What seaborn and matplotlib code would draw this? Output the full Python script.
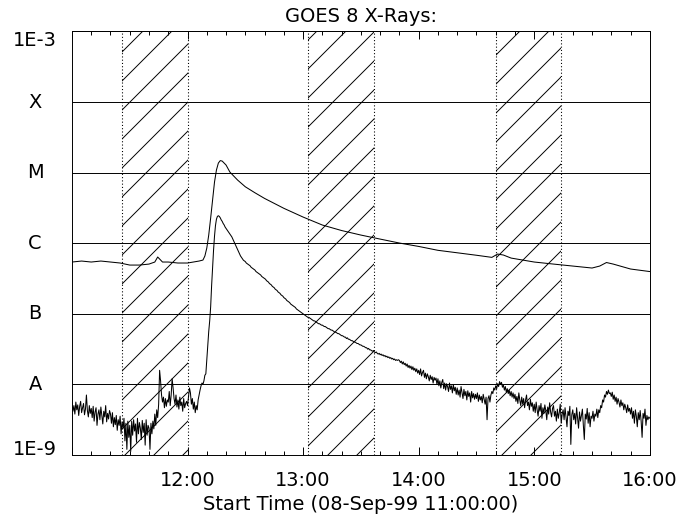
import numpy as np
import pandas as pd
import seaborn as sns
import matplotlib
matplotlib.use("Agg")
import matplotlib.pyplot as plt
from matplotlib.ticker import FixedLocator, NullLocator

# time axis: minutes after 08-Sep-99 11:00:00
# long channel (1-8 A), log10(W/m^2)
long_minutes = [0, 5, 10, 15, 20, 25, 30, 35, 40, 43, 44.5, 45.5, 47, 50, 55, 60, 63, 66,
                68, 69, 70, 71, 72, 73, 74, 75, 76, 77, 78, 80, 82, 86, 90, 95, 100,
                110, 120, 130, 140, 150, 160, 170, 180, 190, 200, 210, 218, 221, 224,
                228, 240, 250, 260, 270, 274, 277.5, 281, 290, 300]
long_log = [-6.266, -6.252, -6.266, -6.252, -6.266, -6.280, -6.309, -6.309, -6.295, -6.266,
            -6.195, -6.223, -6.266, -6.266, -6.280, -6.280, -6.266, -6.252,
            -6.238, -6.181, -6.068, -5.884, -5.643, -5.388, -5.133, -4.963, -4.864, -4.829,
            -4.836, -4.892, -4.992, -5.105, -5.200, -5.285, -5.365,
            -5.505, -5.629, -5.742, -5.820, -5.884, -5.941, -5.997, -6.045, -6.100, -6.135,
            -6.170, -6.200, -6.153, -6.167,
            -6.210, -6.266, -6.295, -6.323, -6.351, -6.323, -6.273, -6.295, -6.365, -6.401]

# short channel (0.5-4 A), one value every 30 s, log10(W/m^2)
short_log = [
    -8.26, -8.38, -8.30, -8.42, -8.25, -8.36, -8.29, -8.44, -8.31, -8.24, -8.40, -8.33, -8.27, -8.43, -8.35, -8.15, -8.37, -8.46, -8.30, -8.41,
    -8.34, -8.47, -8.31, -8.52, -8.39, -8.33, -8.58, -8.42, -8.36, -8.50, -8.32, -8.44, -8.56, -8.38, -8.46, -8.30, -8.53, -8.41, -8.49, -8.37,
    -8.42, -8.55, -8.40, -8.60, -8.47, -8.57, -8.44, -8.65, -8.50, -8.58, -8.45, -8.70, -8.53, -8.62, -8.48, -8.80, -8.55, -8.92, -8.52, -8.75,
    -8.58, -8.95, -8.52, -8.72, -8.50, -8.66, -8.56, -8.82, -8.48, -8.70, -8.54, -8.62, -8.78, -8.51, -8.68, -8.55, -8.86, -8.50, -8.72, -8.58,
    -8.62, -8.92, -8.55, -8.70, -8.52, -8.63, -8.42, -8.58, -8.36, -8.47, -8.28, -7.80, -7.95, -8.15, -8.25, -8.18, -8.33, -8.20, -8.31, -8.22,
    -8.25, -8.10, -8.30, -8.15, -7.92, -8.05, -8.20, -8.28, -8.15, -8.32, -8.22, -8.35, -8.18, -8.30, -8.25, -8.38, -8.20, -8.33, -8.27, -8.24,
    -8.30, -8.18, -8.05, -8.12, -8.28, -8.20, -8.35, -8.25, -8.40, -8.30, -8.36, -8.22, -8.15, -8.08, -8.02, -7.98, -8.00, -7.95, -7.87, -7.85,
    -7.65, -7.45, -7.25, -7.10, -6.90, -6.60, -6.35, -6.10, -5.90, -5.75, -5.66, -5.62, -5.61, -5.62, -5.64, -5.67, -5.69, -5.72, -5.74, -5.77,
    -5.79, -5.81, -5.83, -5.85, -5.87, -5.89, -5.91, -5.94, -5.97, -6.00, -6.03, -6.06, -6.09, -6.12, -6.15, -6.18, -6.20, -6.22, -6.24, -6.25,
    -6.26, -6.28, -6.29, -6.30, -6.31, -6.32, -6.34, -6.35, -6.36, -6.37, -6.38, -6.40, -6.41, -6.42, -6.43, -6.44, -6.45, -6.47, -6.48, -6.49,
    -6.50, -6.51, -6.53, -6.54, -6.55, -6.57, -6.58, -6.59, -6.61, -6.62, -6.63, -6.65, -6.66, -6.67, -6.69, -6.70, -6.71, -6.73, -6.74, -6.75,
    -6.77, -6.78, -6.79, -6.81, -6.82, -6.83, -6.84, -6.86, -6.87, -6.88, -6.89, -6.90, -6.91, -6.93, -6.94, -6.95, -6.96, -6.97, -6.98, -6.99,
    -7.00, -7.01, -7.02, -7.03, -7.04, -7.05, -7.05, -7.06, -7.07, -7.08, -7.09, -7.10, -7.10, -7.11, -7.12, -7.13, -7.14, -7.14, -7.15, -7.16,
    -7.16, -7.17, -7.18, -7.18, -7.19, -7.20, -7.21, -7.21, -7.22, -7.23, -7.23, -7.24, -7.25, -7.26, -7.26, -7.27, -7.28, -7.28, -7.29, -7.30,
    -7.31, -7.31, -7.32, -7.33, -7.33, -7.35, -7.34, -7.36, -7.36, -7.37, -7.38, -7.38, -7.39, -7.40, -7.40, -7.41, -7.42, -7.42, -7.43, -7.44,
    -7.44, -7.45, -7.46, -7.46, -7.47, -7.48, -7.48, -7.50, -7.49, -7.51, -7.51, -7.52, -7.53, -7.52, -7.54, -7.55, -7.54, -7.56, -7.57, -7.56,
    -7.58, -7.57, -7.59, -7.58, -7.60, -7.59, -7.61, -7.60, -7.62, -7.61, -7.63, -7.62, -7.64, -7.63, -7.65, -7.64, -7.66, -7.65, -7.66, -7.65,
    -7.66, -7.69, -7.67, -7.71, -7.68, -7.72, -7.70, -7.74, -7.71, -7.76, -7.73, -7.77, -7.74, -7.79, -7.75, -7.80, -7.77, -7.82, -7.78, -7.84,
    -7.80, -7.86, -7.78, -7.88, -7.83, -7.80, -7.90, -7.84, -7.92, -7.85, -7.89, -7.95, -7.87, -7.93, -7.89, -7.98, -7.90, -7.94, -7.91, -8.00,
    -7.92, -8.02, -7.95, -8.05, -7.97, -7.93, -8.06, -7.98, -8.08, -7.99, -8.03, -8.10, -7.98, -8.07, -8.02, -8.12, -8.00, -8.09, -8.04, -8.14,
    -8.05, -8.15, -8.08, -8.18, -8.03, -8.12, -8.20, -8.07, -8.16, -8.10, -8.22, -8.09, -8.17, -8.12, -8.25, -8.10, -8.19, -8.13, -8.21, -8.14,
    -8.20, -8.12, -8.24, -8.15, -8.22, -8.17, -8.26, -8.14, -8.21, -8.28, -8.18, -8.50, -8.20, -8.16, -8.25, -8.15, -8.10, -8.13, -8.05, -8.08,
    -8.02, -8.06, -7.99, -8.03, -7.96, -8.00, -7.97, -8.04, -8.01, -8.08, -8.03, -8.11, -8.06, -8.13, -8.08, -8.16, -8.10, -8.18, -8.12, -8.20,
    -8.14, -8.24, -8.17, -8.27, -8.12, -8.22, -8.30, -8.18, -8.28, -8.20, -8.33, -8.22, -8.15, -8.30, -8.25, -8.36, -8.21, -8.31, -8.26, -8.38,
    -8.28, -8.40, -8.25, -8.36, -8.45, -8.30, -8.38, -8.27, -8.48, -8.33, -8.41, -8.29, -8.37, -8.50, -8.32, -8.42, -8.26, -8.39, -8.46, -8.34,
    -8.30, -8.45, -8.38, -8.52, -8.35, -8.48, -8.40, -8.28, -8.55, -8.42, -8.36, -8.50, -8.33, -8.47, -8.60, -8.38, -8.44, -8.31, -8.85, -8.43,
    -8.36, -8.50, -8.41, -8.56, -8.33, -8.47, -8.62, -8.39, -8.52, -8.44, -8.35, -8.58, -8.78, -8.42, -8.49, -8.34, -8.55, -8.40, -8.60, -8.45,
    -8.48, -8.38, -8.52, -8.42, -8.45, -8.35, -8.47, -8.36, -8.40, -8.30, -8.33, -8.22, -8.25, -8.15, -8.18, -8.10, -8.14, -8.08, -8.13, -8.12,
    -8.17, -8.11, -8.21, -8.15, -8.24, -8.18, -8.28, -8.20, -8.25, -8.32, -8.22, -8.30, -8.26, -8.36, -8.28, -8.33, -8.40, -8.29, -8.38, -8.34,
    -8.42, -8.33, -8.48, -8.38, -8.55, -8.36, -8.45, -8.60, -8.40, -8.50, -8.37, -8.52, -8.75, -8.41, -8.48, -8.35, -8.58, -8.44, -8.50, -8.46,
    -8.48,
]
short_minutes = np.arange(len(short_log)) * 0.5

# night / SAA intervals (minutes after 11:00)
night_start = [26.0, 122.7, 219.9]
night_end = [60.0, 156.9, 253.8]

level_values = [1e-9, 1e-8, 1e-7, 1e-6, 1e-5, 1e-4, 1e-3]
level_labels = ["1E-9", "A", "B", "C", "M", "X", "1E-3"]
hour_minutes = [0, 60, 120, 180, 240, 300]
hour_labels = ["", "12:00", "13:00", "14:00", "15:00", "16:00"]

long_df = pd.DataFrame({"minutes": long_minutes, "flux": 10 ** np.array(long_log)})
short_df = pd.DataFrame({"minutes": short_minutes, "flux": 10 ** np.array(short_log)})

sns.set_style("white")
plt.rcParams["font.family"] = ["DejaVu Sans"]
plt.rcParams["text.color"] = "black"
plt.rcParams["xtick.color"] = "black"
plt.rcParams["ytick.color"] = "black"
plt.rcParams["axes.labelcolor"] = "black"
plt.rcParams["hatch.linewidth"] = 0.8
plt.rcParams["hatch.color"] = "black"

DPI = 87  # hatch tile follows dpi -> ~29 px hatch spacing like the original
fig = plt.figure(figsize=(679 / DPI, 518 / DPI), dpi=DPI)
ax = fig.add_axes([0.106, 0.1216, 0.851, 0.8176])

for a, b in zip(night_start, night_end):
    ax.axvspan(a, b, facecolor="none", edgecolor="black", hatch="/", lw=0, zorder=0.5)
    ax.axvline(a, color="black", ls=(0, (1, 2)), lw=0.9, zorder=1)
    ax.axvline(b, color="black", ls=(0, (1, 2)), lw=0.9, zorder=1)

sns.lineplot(data=long_df, x="minutes", y="flux", color="black", lw=0.85,
             estimator=None, sort=False, ax=ax, zorder=3)
sns.lineplot(data=short_df, x="minutes", y="flux", color="black", lw=0.85,
             estimator=None, sort=False, ax=ax, zorder=3)

ax.set_yscale("log")
ax.set_ylim(1e-9, 1e-3)
ax.set_xlim(0, 300)

ax.set_yticks(level_values)
ax.set_yticklabels(level_labels)
ax.yaxis.set_minor_locator(NullLocator())
ax.tick_params(axis="y", which="both", length=0, pad=30.6, labelsize=16)
for i, lbl in enumerate(ax.get_yticklabels()):
    lbl.set_ha("center")
    if i == 0:
        lbl.set_va("baseline")
    elif i == len(level_labels) - 1:
        lbl.set_va("top")
    else:
        lbl.set_va("center")

ax.set_xticks(hour_minutes)
ax.set_xticklabels(hour_labels)
ax.xaxis.set_minor_locator(FixedLocator(list(range(0, 301, 10))))
ax.tick_params(axis="x", which="both", direction="in", top=True, bottom=True,
               color="black", width=0.8, labelsize=16, pad=13.5)
ax.tick_params(axis="x", which="major", length=6.6)
ax.tick_params(axis="x", which="minor", length=3.7)

ax.grid(axis="y", which="major", color="black", lw=0.8)
for sp in ax.spines.values():
    sp.set_color("black")
    sp.set_linewidth(0.8)

ax.set_title("GOES 8 X-Rays:", fontsize=16, pad=7.5, color="black")
ax.set_xlabel("Start Time (08-Sep-99 11:00:00)", fontsize=16, labelpad=4, color="black")
ax.set_ylabel("")

fig.savefig("out.png", dpi=DPI)
